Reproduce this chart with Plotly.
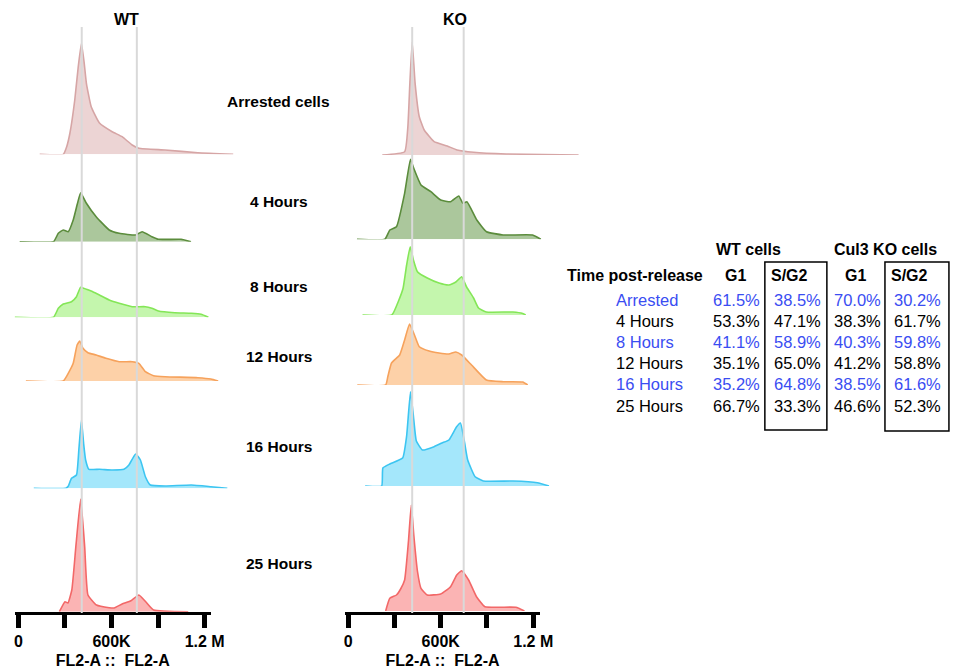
import plotly.graph_objects as go

# ---------------- data (FL2-A in thousands, relative counts) ----------------
TIMEPOINTS = ["Arrested cells", "4 Hours", "8 Hours", "12 Hours", "16 Hours", "25 Hours"]

WT_ARR_X = [137, 289, 311, 332, 363, 385, 406, 424, 438, 469, 522, 604, 668, 733, 776, 945, 1156, 1384]
WT_ARR_Y = [0, 0, 7.6, 21.3, 54.3, 87, 111, 91, 71, 47.6, 31.3, 22.6, 17.6, 9.3, 6, 4.3, 1.6, 0]
WT_4H_X = [8, 226, 257, 289, 321, 353, 380, 401, 438, 501, 585, 649, 755, 797, 860, 902, 1048, 1112]
WT_4H_Y = [0, 0, 8.4, 11.7, 10, 21.7, 38, 49, 38.4, 25, 11.7, 8.4, 6.7, 10, 5, 2.4, 2.4, 0]
WT_8H_X = [-23, 226, 257, 289, 342, 374, 401, 438, 479, 522, 585, 649, 733, 818, 860, 902, 1008, 1114, 1177, 1224]
WT_8H_Y = [0, 0, 9, 13.3, 15.6, 20.6, 30, 28, 25.6, 22.3, 17.3, 14, 10.6, 10.6, 9, 6.3, 4.6, 4, 3, 0]
WT_12H_X = [48, 289, 321, 353, 378, 395, 416, 448, 501, 564, 649, 733, 776, 818, 871, 945, 1156, 1240, 1287]
WT_12H_Y = [0, 0, 7.7, 17.7, 36, 40, 32.7, 28.3, 26, 22.7, 19.3, 19.3, 17.7, 9.3, 5.3, 4.3, 3.3, 2, 0]
WT_16H_X = [99, 305, 321, 342, 374, 390, 406, 420, 433, 454, 522, 606, 680, 712, 755, 786, 818, 850, 945, 1114, 1240, 1346]
WT_16H_Y = [0, 0, 2, 10, 13.3, 40, 68.3, 45, 28.3, 19, 19, 18.3, 19, 23.3, 34.3, 28.3, 11.6, 3.3, 2.3, 3.3, 1.6, 0]
WT_25H_X = [264, 300, 319, 344, 370, 401, 427, 448, 503, 585, 617, 668, 725, 776, 820, 871, 1094]
WT_25H_Y = [0, 10, 8.7, 21.7, 65, 112.7, 65, 16.7, 6.7, 4, 3.7, 7.7, 11, 16.7, 10, 1.7, 0]

KO_ARR_X = [221, 366, 387, 400, 415, 434, 461, 493, 557, 642, 706, 813, 1025, 1494]
KO_ARR_Y = [0, 3.3, 28.3, 72, 113.3, 71.7, 38.3, 25, 13.3, 9, 5, 2.7, 1, 0]
KO_4H_X = [57, 238, 270, 313, 366, 404, 425, 472, 536, 600, 664, 717, 744, 770, 834, 897, 1004, 1196, 1249]
KO_4H_Y = [0, 0, 9.3, 12.6, 46, 80, 71, 54.3, 47.6, 39.3, 37.6, 43.3, 36, 37.6, 19.3, 7.6, 4.3, 4.3, 0]
KO_8H_X = [93, 283, 327, 356, 379, 402, 423, 449, 513, 589, 653, 698, 736, 768, 813, 845, 896, 1068, 1132, 1151]
KO_8H_Y = [0, 0, 14.3, 26.7, 50, 68.3, 55, 43.3, 37, 32, 30, 33, 38.3, 28, 17, 7, 3, 3, 1.5, 0]
KO_12H_X = [59, 243, 257, 281, 334, 366, 398, 430, 461, 525, 589, 653, 698, 736, 800, 896, 1004, 1132, 1164]
KO_12H_Y = [0, 0, 8.3, 22, 30, 45, 61, 50, 38.3, 34, 32, 31, 33, 30, 20, 5, 3.3, 3, 0]
KO_16H_X = [110, 217, 225, 270, 353, 379, 404, 423, 442, 481, 557, 608, 653, 702, 728, 753, 775, 823, 876, 1068, 1227, 1302]
KO_16H_Y = [0, 0, 18, 22, 28, 50, 94.3, 70, 45, 36, 39.3, 43, 46, 59, 63, 45, 26, 9.3, 5, 5, 3.3, 0]
KO_25H_X = [243, 270, 313, 340, 366, 391, 409, 426, 449, 472, 513, 600, 664, 704, 736, 781, 832, 887, 1087, 1143]
KO_25H_Y = [0, 12.7, 16, 22, 31, 70, 106, 75, 40, 22.7, 16, 17, 24.3, 36, 40.3, 31, 14.3, 4.3, 3.7, 0]

WT_GATES = [408, 763]   # G1 / G2 peak markers (K)
KO_GATES = [415, 749]

TICK_VALS = [0, 300, 600, 900, 1200]
TICK_TEXT = ["0", "", "600K", "", "1.2 M"]

TABLE_ROWS = ["Arrested", "4 Hours", "8 Hours", "12 Hours", "16 Hours", "25 Hours"]
WT_G1 = ["61.5%", "53.3%", "41.1%", "35.1%", "35.2%", "66.7%"]
WT_SG2 = ["38.5%", "47.1%", "58.9%", "65.0%", "64.8%", "33.3%"]
KO_G1 = ["70.0%", "38.3%", "40.3%", "41.2%", "38.5%", "46.6%"]
KO_SG2 = ["30.2%", "61.7%", "59.8%", "58.8%", "61.6%", "52.3%"]

# ---------------- styling / layout ----------------
W, H = 959, 670
FONT = "Arial, Liberation Sans, Helvetica, sans-serif"
LINE_COLORS = ["#d6a5a5", "#5b8c3c", "#84e657", "#f6a25c", "#3cc5f1", "#f26868"]
FILL_COLORS = ["#ecd4d4", "#abc79c", "#c4f6ad", "#fdd1a8", "#a4e7fb", "#fbb4b4"]
BLUE = "#3a4df2"

WT_BASE = [154.3, 241.7, 317.3, 381, 488.3, 611.7]
KO_BASE = [155, 239.3, 315, 385, 486, 611]
BAND = 125

# column pixel mapping: pixel of 0K and pixels per K
WT_PX0, WT_PPK = 17.7, 47.3 / 300
KO_PX0, KO_PPK = 352.7, 47.0 / 300
AXIS_Y = 613


def px(x):
    return x / W


def py(y):
    return 1 - y / H


def rng(a, b, px0, ppk):
    return [(a - px0) / ppk, (b - px0) / ppk]


fig = go.Figure()

wt_series = [(WT_ARR_X, WT_ARR_Y), (WT_4H_X, WT_4H_Y), (WT_8H_X, WT_8H_Y),
             (WT_12H_X, WT_12H_Y), (WT_16H_X, WT_16H_Y), (WT_25H_X, WT_25H_Y)]
ko_series = [(KO_ARR_X, KO_ARR_Y), (KO_4H_X, KO_4H_Y), (KO_8H_X, KO_8H_Y),
             (KO_12H_X, KO_12H_Y), (KO_16H_X, KO_16H_Y), (KO_25H_X, KO_25H_Y)]

layout = {}
ycount = 0
for col, (series, bases, xa) in enumerate([(wt_series, WT_BASE, "x3"), (ko_series, KO_BASE, "x4")]):
    for i, ((xs, ys), b) in enumerate(zip(series, bases)):
        ycount += 1
        yname = "y" if ycount == 1 else f"y{ycount}"
        lname = "yaxis" if ycount == 1 else f"yaxis{ycount}"
        layout[lname] = dict(domain=[py(b), py(b - BAND)], range=[0, BAND], visible=False,
                             anchor=xa, fixedrange=True)
        fig.add_trace(go.Scatter(x=xs, y=ys, xaxis=xa, yaxis=yname, mode="lines",
                                 line=dict(color=LINE_COLORS[i], width=1.6, shape="spline", smoothing=0.4),
                                 fill="tozeroy", fillcolor=FILL_COLORS[i],
                                 showlegend=False, hoverinfo="skip"))

# dummy y axes for the visible bottom axes
layout["yaxis13"] = dict(domain=[py(AXIS_Y), py(AXIS_Y - 10)], range=[0, 1], visible=False, anchor="x")
layout["yaxis14"] = dict(domain=[py(AXIS_Y), py(AXIS_Y - 10)], range=[0, 1], visible=False, anchor="x2")
fig.add_trace(go.Scatter(x=[WT_GATES[0]], y=[0.5], xaxis="x", yaxis="y13", mode="markers",
                         marker=dict(opacity=0), showlegend=False, hoverinfo="skip"))
fig.add_trace(go.Scatter(x=[KO_GATES[0]], y=[0.5], xaxis="x2", yaxis="y14", mode="markers",
                         marker=dict(opacity=0), showlegend=False, hoverinfo="skip"))

axis_common = dict(tickvals=TICK_VALS, ticktext=[f"<b>{t}</b>" if t else "" for t in TICK_TEXT],
                   showline=True, linecolor="black", linewidth=2.5, ticks="outside",
                   ticklen=13, tickwidth=5, tickcolor="black", showgrid=False, zeroline=False,
                   tickfont=dict(family=FONT, size=16, color="black"), anchor="free",
                   position=py(AXIS_Y), fixedrange=True,
                   title=dict(text="<b>FL2-A ::  FL2-A</b>", font=dict(family=FONT, size=16, color="black"),
                              standoff=5))
layout["xaxis"] = dict(domain=[px(14), px(213)], range=rng(14, 213, WT_PX0, WT_PPK), **axis_common)
layout["xaxis2"] = dict(domain=[px(349), px(548)], range=rng(349, 548, KO_PX0, KO_PPK), **axis_common)
layout["xaxis3"] = dict(domain=[px(0), px(320)], range=rng(0, 320, WT_PX0, WT_PPK), visible=False,
                        anchor="y", fixedrange=True)
layout["xaxis4"] = dict(domain=[px(340), px(610)], range=rng(340, 610, KO_PX0, KO_PPK), visible=False,
                        anchor="y7", fixedrange=True)

shapes = []
for g in WT_GATES:
    shapes.append(dict(type="line", xref="x3", yref="paper", x0=g, x1=g, y0=py(AXIS_Y), y1=py(27),
                       line=dict(color="#d9d9d9", width=2), layer="above"))
for g in KO_GATES:
    shapes.append(dict(type="line", xref="x4", yref="paper", x0=g, x1=g, y0=py(AXIS_Y), y1=py(27),
                       line=dict(color="#d9d9d9", width=2), layer="above"))
# S/G2 boxes
shapes.append(dict(type="rect", xref="paper", yref="paper", x0=px(776), x1=px(839), y0=py(430), y1=py(262),
                   line=dict(color="black", width=1.5)))
shapes.append(dict(type="rect", xref="paper", yref="paper", x0=px(898), x1=px(963), y0=py(431), y1=py(262),
                   line=dict(color="black", width=1.5)))

ann = []


def text(t, x, y, size=16, bold=False, color="black", xanchor="center"):
    ann.append(dict(text=f"<b>{t}</b>" if bold else t, x=px(x), y=py(y), xref="paper", yref="paper",
                    showarrow=False, xanchor=xanchor, yanchor="middle",
                    font=dict(family=FONT, size=size, color=color)))


text("WT", 128, 19, size=16, bold=True)
text("KO", 461, 19, size=16, bold=True)
label_y = [101, 201, 287, 356, 446, 563]
for t, y in zip(TIMEPOINTS, label_y):
    text(t, 282, y, size=15.5, bold=True)

# table
text("WT cells", 759, 249, size=16, bold=True)
text("Cul3 KO cells", 899, 249, size=16, bold=True)
text("Time post-release", 715, 275, size=16, bold=True, xanchor="right")
text("G1", 746, 275, size=16, bold=True)
text("S/G2", 801, 275, size=16, bold=True)
text("G1", 868, 275, size=16, bold=True)
text("S/G2", 923, 275, size=16, bold=True)
row_y0, row_dy = 300, 21.1
for i, r in enumerate(TABLE_ROWS):
    c = BLUE if i % 2 == 0 else "black"
    y = row_y0 + i * row_dy
    text(r, 623, y, size=16.5, color=c, xanchor="left")
    text(WT_G1[i], 773, y, size=16.5, color=c, xanchor="right")
    text(WT_SG2[i], 783, y, size=16.5, color=c, xanchor="left")
    text(KO_G1[i], 896, y, size=16.5, color=c, xanchor="right")
    text(KO_SG2[i], 905, y, size=16.5, color=c, xanchor="left")

fig.update_layout(width=W, height=H, margin=dict(l=0, r=0, t=0, b=0), autosize=False,
                  paper_bgcolor="white", plot_bgcolor="rgba(0,0,0,0)",
                  shapes=shapes, annotations=ann, **layout)

POST = ("document.documentElement.style.overflow='hidden';"
        "document.body.style.overflow='hidden';document.body.style.margin='0px';")
fig.write_html("out.html", config={"displayModeBar": False},
               post_script=POST, default_width="959px", default_height="670px")
